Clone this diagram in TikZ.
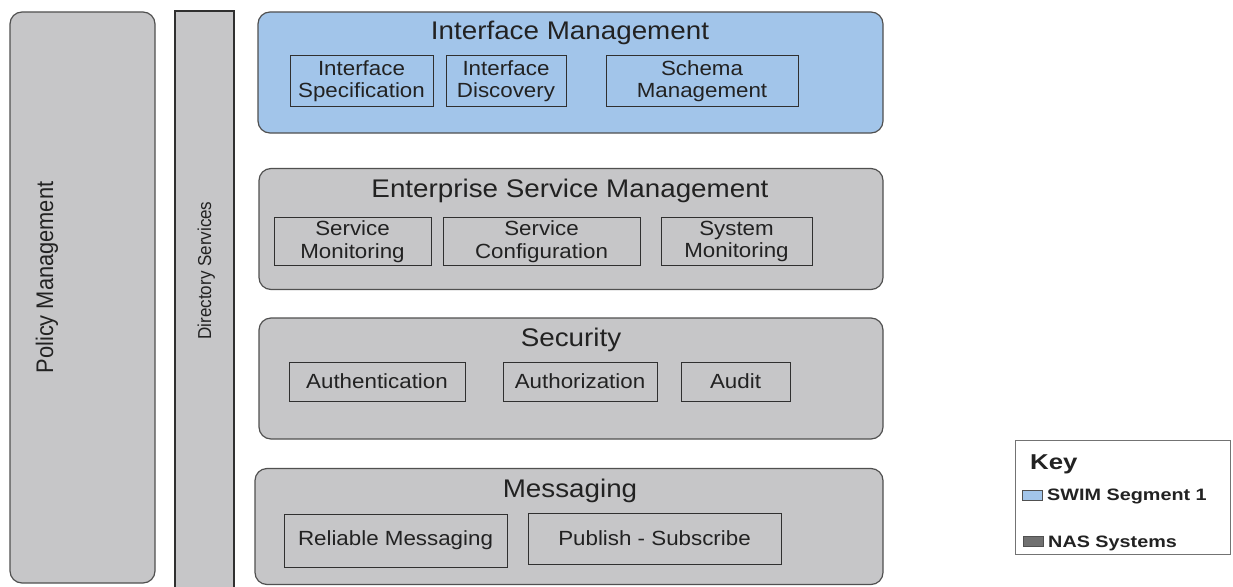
\documentclass[tikz,border=0pt]{standalone}
\usepackage{fontspec}
\setmainfont{Liberation Sans}
\newfontfamily\fw[FakeStretch=1.09]{Liberation Sans}
\newfontfamily\fr[FakeStretch=0.91]{Liberation Sans}
\newfontfamily\fk[FakeStretch=1.2]{Liberation Sans}
\definecolor{panelgray}{HTML}{C6C6C8}
\definecolor{panelblue}{HTML}{A2C5EA}
\definecolor{bordergray}{HTML}{505050}
\definecolor{subline}{HTML}{303030}
\definecolor{textc}{HTML}{222222}
\definecolor{nasgray}{HTML}{707070}
\begin{document}
\begin{tikzpicture}[x=1pt,y=-1pt,
  big/.style={draw=bordergray, line width=1.2pt, rounded corners=12pt, fill=panelgray, inner sep=0pt, outer sep=0pt},
  bigblue/.style={big, fill=panelblue},
  colbox/.style={draw=subline, line width=1.1pt, fill=panelgray, inner sep=0pt, outer sep=0pt},
  sub/.style={draw=subline, line width=1pt, inner sep=0pt, align=center, text=textc, font=\fw\fontsize{20.5}{22.5}\selectfont},
  title/.style={anchor=base, text=textc, font=\fw\fontsize{25.5}{28}\selectfont},
  keytext/.style={anchor=base west, text=textc, inner sep=0pt},
  swatch/.style={draw=bordergray, line width=0.8pt, inner sep=0pt, minimum width=20pt, minimum height=10pt}
]
\useasboundingbox (0,0) rectangle (1233,586);

% left columns
\node[big, minimum width=145pt, minimum height=571pt] (policy) at (82.5,297.5) {};
\node[rotate=90, anchor=base, text=textc, font=\fr\fontsize{24}{26}\selectfont] (policyt) at (53,277.5) {Policy Management};
\node[colbox, minimum width=59pt, minimum height=579pt] (dir) at (204.5,300.5) {};
\node[rotate=90, anchor=base, text=textc, font=\fr\fontsize{18.7}{21}\selectfont] (dirt) at (211,270.5) {Directory Services};

% Interface Management
\node[bigblue, minimum width=625pt, minimum height=121pt] (im) at (570.5,72.5) {};
\node[title] (imt) at (570,39.5) {Interface Management};
\node[sub, minimum width=143pt, minimum height=50pt] (is) at (361.5,81) {Interface\\Specification};
\node[sub, minimum width=120pt, minimum height=50pt] (id) at (506,81) {Interface\\Discovery};
\node[sub, minimum width=192pt, minimum height=50pt] (sm) at (702,81) {Schema\\Management};

% Enterprise Service Management
\node[big, minimum width=624pt, minimum height=121pt] (esm) at (571,229) {};
\node[title] (esmt) at (570,197) {Enterprise Service Management};
\node[sub, minimum width=157pt, minimum height=48pt] (smon) at (352.5,241.5) {Service\\Monitoring};
\node[sub, minimum width=197pt, minimum height=48pt] (sconf) at (541.5,241.5) {Service\\Configuration};
\node[sub, minimum width=151pt, minimum height=48pt] (sysm) at (736.5,241.5) {System\\Monitoring};

% Security
\node[big, minimum width=624pt, minimum height=121pt] (sec) at (571,378.5) {};
\node[title] (sect) at (571,346) {Security};
\node[sub, minimum width=176pt, minimum height=39pt] (authn) at (377,381.5) {Authentication};
\node[sub, minimum width=154pt, minimum height=39pt] (authz) at (580,381.5) {Authorization};
\node[sub, minimum width=109pt, minimum height=39pt] (audit) at (735.5,381.5) {Audit};

% Messaging
\node[big, minimum width=628pt, minimum height=116pt] (msg) at (569,526.5) {};
\node[title] (msgt) at (570,497) {Messaging};
\node[sub, minimum width=223pt, minimum height=53pt] (rm) at (395.5,540.5) {Reliable Messaging};
\node[sub, minimum width=253pt, minimum height=51pt] (ps) at (654.5,538.5) {Publish - Subscribe};

% Key
\node[draw=bordergray!80, line width=1pt, fill=white, inner sep=0pt, minimum width=215pt, minimum height=114pt] (key) at (1122.5,497) {};
\node[keytext, font=\fk\bfseries\fontsize{21.5}{24}\selectfont] (keyt) at (1030,469) {Key};
\node[swatch, fill=panelblue] (sw1) at (1032,495.5) {};
\node[keytext, font=\fk\bfseries\fontsize{16.5}{19}\selectfont] (sw1t) at (1047,500) {SWIM Segment 1};
\node[swatch, fill=nasgray] (sw2) at (1033,541.5) {};
\node[keytext, font=\fk\bfseries\fontsize{16.5}{19}\selectfont] (sw2t) at (1048,547) {NAS Systems};
\end{tikzpicture}
\end{document}
